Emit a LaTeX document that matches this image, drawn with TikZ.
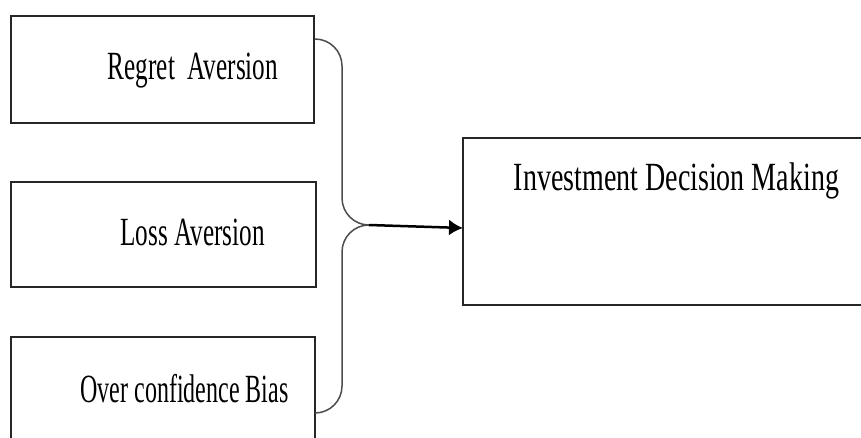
\documentclass[tikz,border=0pt]{standalone}
\usepackage{fontspec}
\setmainfont{Liberation Serif}
\usetikzlibrary{arrows.meta}
\newcommand{\squeeze}[2][0.63]{\scalebox{#1}[1]{#2}}

\begin{document}
\begin{tikzpicture}[x=1pt,y=-1pt,
	factor/.style={draw=black!85,line width=1.6pt,inner sep=0pt},
	lbl/.style={anchor=base,inner sep=0pt,font=\fontsize{40}{48}\selectfont},
	brace/.style={draw=black!70,line width=1.5pt,rounded corners=27pt}]
		\useasboundingbox (0,0) rectangle (861,438);
		\node[factor,minimum width=303pt,minimum height=107pt] (regret) at (162.5,69.5) {};
		\node[factor,minimum width=305pt,minimum height=105pt] (loss) at (163.5,234.5) {};
		\node[factor,minimum width=304pt,minimum height=122pt] (over) at (163,398) {};
		\node[factor,minimum width=417pt,minimum height=167pt] (invest) at (671.5,221.5) {};
		\node[lbl] (tregret) at (193,80) {\squeeze{Regret\ \ Aversion}};
		\node[lbl] (tloss) at (192.5,245) {\squeeze{Loss Aversion}};
		\node[lbl] (tover) at (184.5,402) {\squeeze[0.6]{Over confidence Bias}};
		\node[lbl] (tinvest) at (676.5,191) {\squeeze[0.7]{Investment Decision Making}};
		% the brace
		\coordinate (btop) at (315,39);
		\coordinate (bbot) at (315,413);
		\coordinate (bend) at (342,225);
		\coordinate (tip) at (369,225);
		\draw[brace] (btop) -- (btop -| bend) -- (bend) -- (tip);
		\draw[brace] (bbot) -- (bbot -| bend) -- (bend) -- (tip);
		\coordinate (ahead) at (463,228);
		\draw[line width=2.5pt,-{Latex[length=14pt,width=16pt]}] (tip) -- (ahead);
		\end{tikzpicture}
\end{document}
